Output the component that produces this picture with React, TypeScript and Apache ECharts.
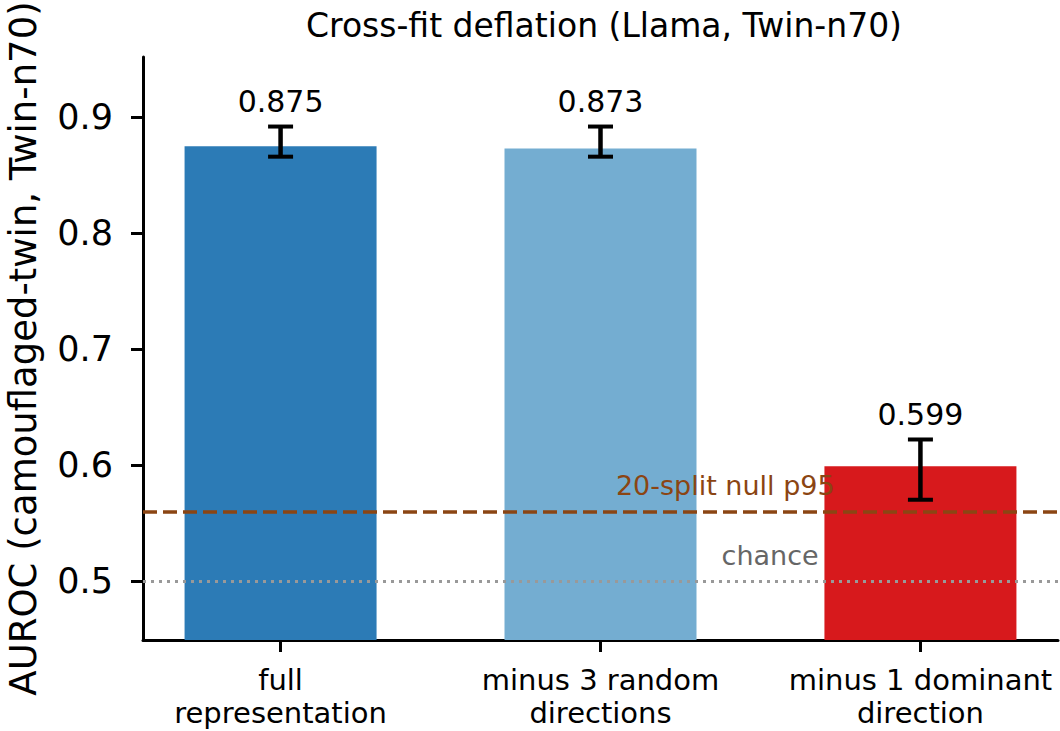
import React, { useEffect, useRef } from "react";
import * as echarts from "echarts";

// Bar categories and measured AUROC values with their confidence intervals
const categories = [
  "full\nrepresentation",
  "minus 3 random\ndirections",
  "minus 1 dominant\ndirection",
];
const auroc = [0.875, 0.873, 0.599];
const ciLow = [0.866, 0.866, 0.570];
const ciHigh = [0.892, 0.892, 0.622];
const barColors = ["#2c7bb6", "#74add1", "#d7191c"];

// Axis ticks and reference levels
const yTicks = [0.5, 0.6, 0.7, 0.8, 0.9];
const xTicks = [0, 1, 2];
const nullP95 = 0.564;
const chanceLevel = 0.5;

// Reference-line annotations: [x, y, text]
const annotations: [number, number, string][] = [
  [1.39, 0.5705, "20-split null p95"],
  [1.53, 0.51, "chance"],
];
const annotationColors = ["#8b4513", "#666666"];

const FONT = "DejaVu Sans";

export default function App() {
  const ref = useRef<HTMLDivElement>(null);

  useEffect(() => {
    document.body.style.margin = "0";
    if (!ref.current) return;
    const chart = echarts.init(ref.current, undefined, { renderer: "svg" });

    const barData = auroc.map((v, i) => ({
      value: [i, v],
      itemStyle: { color: barColors[i] },
    }));
    const errData = auroc.map((v, i) => [i, ciLow[i], ciHigh[i], v]);

    chart.setOption({
      animation: false,
      textStyle: { fontFamily: FONT },
      title: {
        text: "Cross-fit deflation (Llama, Twin-n70)",
        left: 599,
        textAlign: "center",
        top: 4,
        textStyle: { fontFamily: FONT, fontSize: 33, fontWeight: "normal", color: "#000" },
      },
      grid: {
        left: 143,
        right: 2,
        top: 57,
        bottom: 91,
        containLabel: false,
        outerBoundsMode: "none",
      },
      xAxis: {
        type: "value",
        min: -0.43,
        max: 2.43,
        splitLine: { show: false },
        axisLine: { show: true, onZero: false, lineStyle: { color: "#000", width: 3 } },
        axisTick: {
          show: true,
          customValues: xTicks,
          length: 12,
          lineStyle: { color: "#000", width: 3 },
        },
        axisLabel: {
          customValues: xTicks,
          formatter: (v: number) => categories[Math.round(v)],
          fontFamily: FONT,
          fontSize: 29,
          lineHeight: 33,
          color: "#000",
          margin: 23,
        },
      },
      yAxis: {
        type: "value",
        min: 0.449,
        max: 0.952,
        name: "AUROC (camouflaged-twin, Twin-n70)",
        nameLocation: "middle",
        nameGap: 101,
        nameTextStyle: { fontFamily: FONT, fontSize: 37, color: "#000" },
        splitLine: { show: false },
        axisLine: { show: true, onZero: false, lineStyle: { color: "#000", width: 3 } },
        axisTick: {
          show: true,
          customValues: yTicks,
          length: 12,
          lineStyle: { color: "#000", width: 3 },
        },
        axisLabel: {
          customValues: yTicks,
          formatter: (v: number) => v.toFixed(1),
          fontFamily: FONT,
          fontSize: 35,
          color: "#000",
          margin: 30,
        },
      },
      series: [
        {
          type: "bar",
          data: barData,
          barWidth: 192,
          clip: true,
          markLine: {
            silent: true,
            symbol: "none",
            label: { show: false },
            data: [
              {
                yAxis: nullP95,
                lineStyle: { color: "#8b4513", type: [14, 6], width: 3.5 },
              },
              {
                yAxis: chanceLevel,
                lineStyle: { color: "#999999", type: [3, 5], width: 3 },
              },
            ],
          },
        },
        {
          type: "custom",
          data: errData,
          clip: false,
          z: 5,
          renderItem: (params: any, api: any) => {
            const x = api.value(0);
            const lo = api.value(1);
            const hi = api.value(2);
            const val = api.value(3);
            const top = api.coord([x, hi]);
            const bot = api.coord([x, lo]);
            const lab = api.coord([x, hi + 0.01]);
            const cap = 12.5;
            return {
              type: "group",
              children: [
                {
                  type: "line",
                  shape: { x1: top[0], y1: top[1], x2: bot[0], y2: bot[1] },
                  style: { stroke: "#000", lineWidth: 4.5 },
                },
                {
                  type: "line",
                  shape: { x1: top[0] - cap, y1: top[1], x2: top[0] + cap, y2: top[1] },
                  style: { stroke: "#000", lineWidth: 4 },
                },
                {
                  type: "line",
                  shape: { x1: bot[0] - cap, y1: bot[1], x2: bot[0] + cap, y2: bot[1] },
                  style: { stroke: "#000", lineWidth: 4 },
                },
                {
                  type: "text",
                  x: lab[0],
                  y: lab[1] + 2,
                  style: {
                    text: Number(val).toFixed(3),
                    fill: "#000",
                    fontFamily: FONT,
                    fontSize: 30,
                    align: "center",
                    verticalAlign: "bottom",
                  },
                },
              ],
            };
          },
        },
        {
          type: "custom",
          data: annotations.map((a) => [a[0], a[1]]),
          clip: false,
          z: 6,
          renderItem: (params: any, api: any) => {
            const i = params.dataIndex;
            const p = api.coord([api.value(0), api.value(1)]);
            return {
              type: "text",
              x: p[0],
              y: p[1],
              style: {
                text: annotations[i][2],
                fill: annotationColors[i],
                fontFamily: FONT,
                fontSize: 27,
                align: "center",
                verticalAlign: "bottom",
              },
            };
          },
        },
      ],
    });

    return () => chart.dispose();
  }, []);

  return <div ref={ref} style={{ width: 1060, height: 731 }} />;
}
